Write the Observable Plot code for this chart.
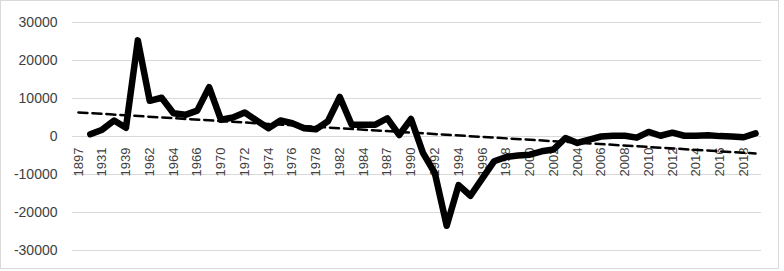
<!DOCTYPE html>
<html>
<head>
<meta charset="utf-8">
<script src="https://cdn.jsdelivr.net/npm/d3@7"></script>
<script src="https://cdn.jsdelivr.net/npm/@observablehq/plot@0.6"></script>
<style>
  html, body { margin: 0; padding: 0; background: #fff; }
  #wrap { position: relative; width: 784px; height: 271px; }
  #border { position: absolute; left: 0; top: 0; width: 777px; height: 267px; border: 1px solid #d9d9d9; pointer-events: none; }
  #chart { position: absolute; left: 0; top: 0; }
</style>
</head>
<body>
<div id="wrap"><div id="chart"></div><div id="border"></div></div>
<script>
// Categories (years) along the x axis; every other one is labelled
const categories = [
  "1897","1920","1931","1935","1939","1950","1962","1963","1964","1965",
  "1966","1968","1970","1971","1972","1973","1974","1975","1976","1977",
  "1978","1980","1982","1983","1984","1986","1987","1989","1990","1991",
  "1992","1993","1994","1995","1996","1997","1998","1999","2000","2001",
  "2002","2003","2004","2005","2006","2007","2008","2009","2010","2011",
  "2012","2013","2014","2015","2016","2017","2018","2019"
];
// Series values (first category blank)
const values = [
  null, 600, 1800, 4200, 2300, 25300, 9400, 10200, 6100, 5700,
  6800, 13000, 4400, 5000, 6300, 4200, 2200, 4200, 3500, 2200,
  1900, 4000, 10400, 3100, 3100, 3100, 4800, 400, 4600, -4300,
  -9600, -23500, -12800, -15600, -11000, -6500, -5400, -5000, -4800, -3900,
  -3400, -400, -1700, -800, 0, 200, 200, -300, 1200, 200,
  1000, 200, 200, 300, 100, 0, -200, 800
];
// Y tick values
const yTicks = [-30000, -20000, -10000, 0, 10000, 20000, 30000];
// Tick labels shown on the x axis
const xTickLabels = categories.filter((c, i) => i % 2 === 0);

const rows = categories.map((c, i) => ({cat: c, v: values[i]}));

// Linear trend (least squares over category index), spanning all categories
const pts = values.map((v, i) => [i, v]).filter(d => d[1] != null);
const mx = d3.mean(pts, d => d[0]), my = d3.mean(pts, d => d[1]);
const slope = d3.sum(pts, d => (d[0] - mx) * (d[1] - my)) / d3.sum(pts, d => (d[0] - mx) ** 2);
const icpt = my - slope * mx;
const trend = [0, categories.length - 1].map(i => ({cat: categories[i], v: icpt + slope * i}));

const labelRows = xTickLabels.map(c => ({cat: c}));

const chart = Plot.plot({
  width: 784,
  height: 271,
  marginLeft: 72,
  marginRight: 23,
  marginTop: 22,
  marginBottom: 21,
  style: {fontFamily: "'Liberation Sans', Arial, sans-serif", background: "transparent", color: "#404040"},
  x: {type: "point", domain: categories, padding: 0.5, axis: null},
  y: {domain: [-30000, 30000], axis: null},
  marks: [
    Plot.gridY(yTicks, {stroke: "#d9d9d9", strokeOpacity: 1, strokeWidth: 1}),
    Plot.axisY(yTicks, {tickSize: 0, tickPadding: 15, fontSize: 14, label: null, tickFormat: d => String(d), fill: "#404040"}),
    Plot.text(labelRows, {x: "cat", y: () => 0, text: "cat", rotate: -90, textAnchor: "end", dy: 11, fontSize: 13, fill: "#404040"}),
    Plot.line(rows, {x: "cat", y: "v", stroke: "black", strokeWidth: 6.5, strokeLinejoin: "round", strokeLinecap: "round"}),
    Plot.line(trend, {x: "cat", y: "v", stroke: "black", strokeWidth: 2.5, strokeDasharray: "9 5"})
  ]
});
document.getElementById("chart").appendChild(chart);
</script>
</body>
</html>
